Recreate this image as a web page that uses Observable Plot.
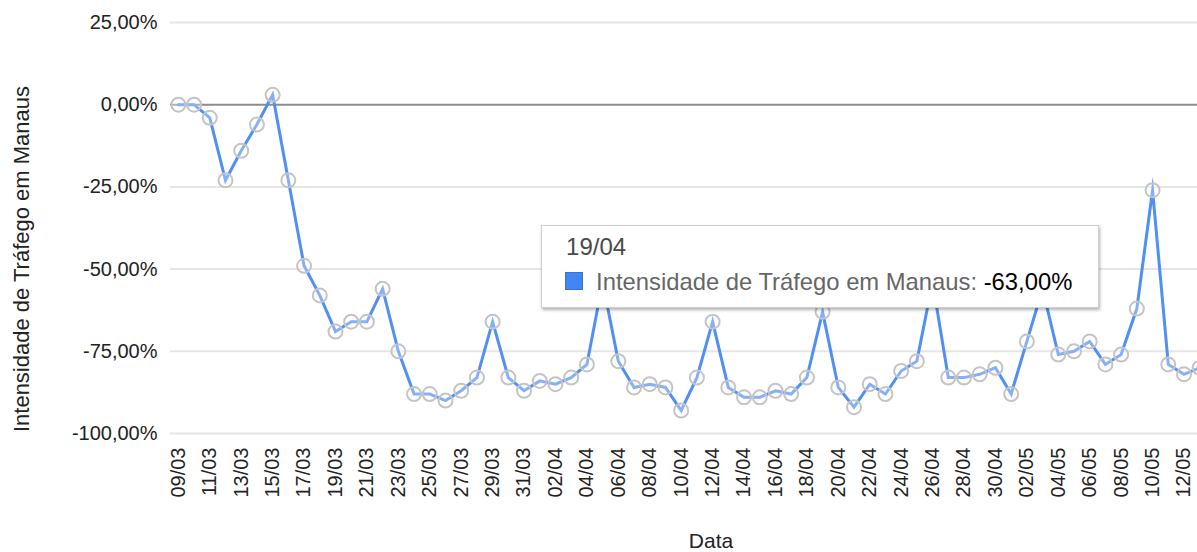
<!DOCTYPE html>
<html>
<head>
<meta charset="utf-8">
<script src="https://cdn.jsdelivr.net/npm/d3@7"></script>
<script src="https://cdn.jsdelivr.net/npm/@observablehq/plot@0.6"></script>
<style>
  body { margin: 0; background: #fff; }
  #wrap { position: relative; width: 1197px; height: 552px; overflow: hidden; font-family: "Liberation Sans", Arial, sans-serif; }
  #tip { position: absolute; background: #fff; border: 1px solid #cfcfcf; box-shadow: 1px 2px 3px rgba(0,0,0,0.3); box-sizing: border-box; }
  #tip .hdr { position: absolute; font-size: 24px; line-height: 24px; color: #4a4a4a; white-space: nowrap; }
  #tip .sw { position: absolute; width: 16px; height: 16px; background: #4285f4; border: 1px solid #3b70cf; }
  #tip .row { position: absolute; font-size: 23.8px; line-height: 24px; color: #666; white-space: nowrap; }
  #tip .row b { color: #000; font-weight: normal; }
</style>
</head>
<body>
<div id="wrap"></div>
<script>
const dates = [
  "09/03","10/03","11/03","12/03","13/03","14/03","15/03","16/03","17/03","18/03",
  "19/03","20/03","21/03","22/03","23/03","24/03","25/03","26/03","27/03","28/03",
  "29/03","30/03","31/03",
  "01/04","02/04","03/04","04/04","05/04","06/04","07/04","08/04","09/04","10/04",
  "11/04","12/04","13/04","14/04","15/04","16/04","17/04","18/04","19/04","20/04",
  "21/04","22/04","23/04","24/04","25/04","26/04","27/04","28/04","29/04","30/04",
  "01/05","02/05","03/05","04/05","05/05","06/05","07/05","08/05","09/05","10/05",
  "11/05","12/05","13/05"
];
const values = [
  0, 0, -4, -23, -14, -6, 3, -23, -49, -58,
  -69, -66, -66, -56, -75, -88, -88, -90, -87, -83,
  -66, -83, -87,
  -84, -85, -83, -79, -54, -78, -86, -85, -86, -93,
  -83, -66, -86, -89, -89, -87, -88, -83, -63, -86,
  -92, -85, -88, -81, -78, -54, -83, -83, -82, -80,
  -88, -72, -56, -76, -75, -72, -79, -76, -62, -26,
  -79, -82, -80
];
const yTicks = [-100, -75, -50, -25, 0, 25];
const xTickIdx = d3.range(0, 65, 2);
const seriesName = "Intensidade de Tráfego em Manaus";
const xTitle = "Data";
const highlightDate = "19/04";

const data = dates.map((d, i) => ({ i, date: d, v: values[i] }));
const fmt = v => v.toFixed(2).replace(".", ",") + "%";
const font = "'Liberation Sans', Arial, sans-serif";

const plot = Plot.plot({
  width: 1197,
  height: 552,
  marginLeft: 170,
  marginRight: 0,
  marginTop: 22,
  marginBottom: 119,
  style: { fontFamily: font, background: "white", color: "#222" },
  x: { type: "linear", domain: [-0.5, 64.86] },
  y: { domain: [-100, 25] },
  marks: [
    Plot.ruleY(yTicks.filter(d => d !== 0), { stroke: "#e6e6e6", strokeWidth: 2 }),
    Plot.ruleY([0], { stroke: "#8c8c8c", strokeWidth: 2 }),
    Plot.line(data, { x: "i", y: "v", stroke: "#4f8ff6", strokeWidth: 3, strokeLinejoin: "miter", strokeMiterlimit: 12 }),
    Plot.dot(data, { x: "i", y: "v", r: 7, stroke: "#c4c4c4", strokeWidth: 2, fill: "white", fillOpacity: 0.3 }),
    Plot.axisY(yTicks, { tickSize: 0, tickPadding: 13, tickFormat: fmt, fontSize: 20, label: null, fill: "#222" }),
    Plot.axisX(xTickIdx, { tickSize: 0, tickPadding: 14, tickRotate: -90, tickFormat: i => dates[i], fontSize: 20, label: null, fill: "#222" }),
    Plot.text([seriesName], { frameAnchor: "left", dx: -149, dy: 31, rotate: -90, textAnchor: "middle", lineAnchor: "middle", fontSize: 22, fill: "#222" }),
    Plot.text([xTitle], { frameAnchor: "bottom", dx: 27, dy: 114, textAnchor: "middle", lineAnchor: "bottom", fontSize: 21, fill: "#222" })
  ]
});

const wrap = document.getElementById("wrap");
wrap.appendChild(plot);

// tooltip anchored to the highlighted data point
const hi = dates.indexOf(highlightDate);
const px = plot.scale("x").apply(hi);
const py = plot.scale("y").apply(values[hi]);
const tip = document.createElement("div");
tip.id = "tip";
tip.style.left = (px - 281) + "px";
tip.style.top = (py - 86) + "px";
tip.style.width = "558px";
tip.style.height = "83px";
tip.innerHTML =
  `<div class="hdr" style="left:24px;top:9px">${dates[hi]}</div>` +
  `<div class="sw" style="left:23px;top:46px"></div>` +
  `<div class="row" style="left:54px;top:44px">${seriesName}: <b>${fmt(values[hi])}</b></div>`;
wrap.appendChild(tip);
</script>
</body>
</html>
